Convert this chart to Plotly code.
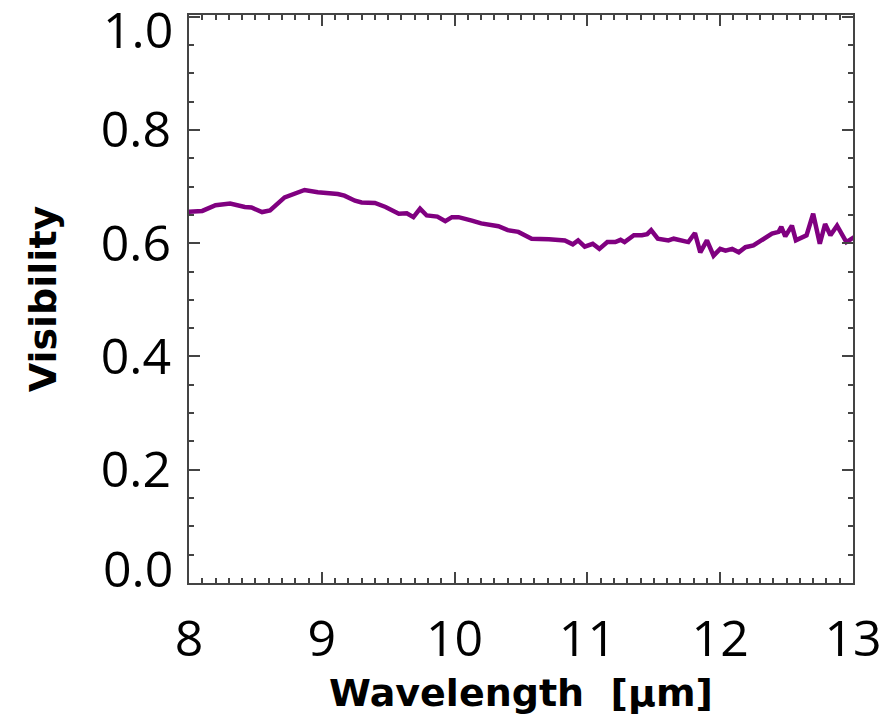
import plotly.graph_objects as go

wavelength = [7.97, 8.10, 8.20, 8.31, 8.42, 8.47, 8.55, 8.61, 8.72, 8.80, 8.87, 8.97, 9.12, 9.17,
              9.25, 9.30, 9.40, 9.48, 9.58, 9.64, 9.69, 9.74, 9.79, 9.87, 9.93, 9.98, 10.03,
              10.13, 10.20, 10.33, 10.40, 10.48, 10.53, 10.58, 10.71, 10.83, 10.89, 10.93,
              10.98, 11.04, 11.09, 11.15, 11.21, 11.25, 11.28, 11.35, 11.41, 11.45, 11.48,
              11.53, 11.61, 11.65, 11.76, 11.81, 11.85, 11.90, 11.95, 12.00, 12.04, 12.09,
              12.14, 12.19, 12.25, 12.33, 12.39, 12.44, 12.46, 12.49, 12.54, 12.57, 12.65,
              12.70, 12.75, 12.79, 12.83, 12.88, 12.91, 12.95, 13.01]
visibility = [0.655, 0.657, 0.667, 0.670, 0.664, 0.663, 0.655, 0.658, 0.681, 0.687, 0.694, 0.690,
              0.687, 0.684, 0.675, 0.672, 0.671, 0.664, 0.652, 0.653, 0.646, 0.661, 0.649,
              0.647, 0.639, 0.646, 0.646, 0.640, 0.635, 0.630, 0.623, 0.620, 0.614, 0.608,
              0.607, 0.605, 0.598, 0.605, 0.594, 0.599, 0.590, 0.602, 0.602, 0.606, 0.602,
              0.614, 0.614, 0.616, 0.623, 0.608, 0.605, 0.608, 0.602, 0.618, 0.584, 0.605,
              0.578, 0.590, 0.587, 0.590, 0.584, 0.593, 0.596, 0.608, 0.617, 0.620, 0.629,
              0.612, 0.631, 0.605, 0.614, 0.652, 0.599, 0.634, 0.614, 0.631, 0.620, 0.602, 0.611]

x_ticks = [8, 9, 10, 11, 12, 13]
y_ticks = [0.0, 0.2, 0.4, 0.6, 0.8, 1.0]
y_tick_labels = ["0.0", "0.2", "0.4", "0.6", "0.8", "1.0"]
# end labels are nudged inward (as in the reference) so they are drawn as annotations
y_end_labels = {0.0: "0.0", 1.0: "1.0"}

TICK_FONT = "Open Sans"
TITLE_FONT = "DejaVu Sans"
tick_font = dict(family=TICK_FONT, size=50, color="black", weight=500)

fig = go.Figure(go.Scatter(x=wavelength, y=visibility, mode="lines",
                           line=dict(color="#800080", width=4.5), cliponaxis=True))

axis_common = dict(showgrid=False, zeroline=False, showline=True, linecolor="#444444",
                   linewidth=2, mirror="ticks", ticks="inside", tickcolor="#444444",
                   tickwidth=1.5, ticklen=11, ticklabeloverflow="allow", automargin=False,
                   tickfont=tick_font)

fig.update_xaxes(range=[8, 13], tickvals=x_ticks, ticktext=[str(v) for v in x_ticks],
                 minor=dict(dtick=0.1, ticks="inside", ticklen=5, tickcolor="#444444", tickwidth=1.5),
                 ticklabelstandoff=11,
                 title=dict(text="Wavelength  [μm]",
                            font=dict(family=TITLE_FONT, size=38, color="black", weight="bold"),
                            standoff=5),
                 **axis_common)
fig.update_yaxes(range=[0, 1.003], tickvals=y_ticks,
                 ticktext=["" if v in y_end_labels else t for v, t in zip(y_ticks, y_tick_labels)],
                 minor=dict(dtick=0.05, ticks="inside", ticklen=5, tickcolor="#444444", tickwidth=1.5),
                 ticklabelstandoff=6,
                 title=dict(text="Visibility",
                            font=dict(family=TITLE_FONT, size=38, color="black", weight="bold"),
                            standoff=32),
                 **axis_common)

for val, txt in y_end_labels.items():
    fig.add_annotation(x=0, xref="paper", y=val, yref="y", text=txt, showarrow=False,
                       xanchor="right", yanchor="middle", xshift=-15, borderpad=0,
                       yshift=(-12 if val == 1.0 else 15), font=tick_font)

fig.update_layout(width=886, height=727, plot_bgcolor="white", paper_bgcolor="white",
                  margin=dict(l=189, r=33, t=15, b=144), showlegend=False)

fig.write_html("out.html")
